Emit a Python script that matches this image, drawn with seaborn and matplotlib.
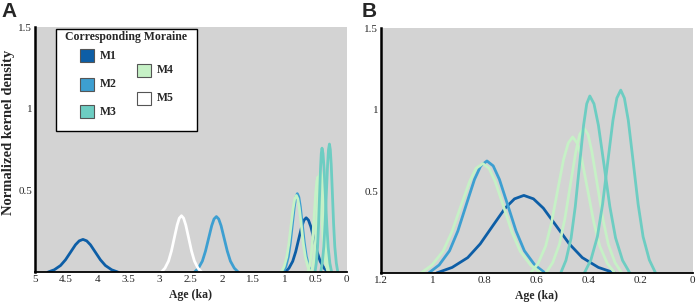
import matplotlib
matplotlib.use('Agg')
from matplotlib import rcParams
from matplotlib.patches import Rectangle
import matplotlib.pyplot as plt
import numpy as np
import pandas as pd
import seaborn as sns

# settings
sns.set_style("white")
rcParams['font.family'] = ['Liberation Serif', 'DejaVu Serif']
pal = {'M1': '#0d5ea6', 'M2': '#3d9fd1', 'M3': '#6dcdc2', 'M4': '#c6f1c6', 'M5': '#ffffff'}
bg = '#d3d3d3'

# curves: age (ka) and normalized kernel density
# young curves are in panel B units, panel A shows them scaled by A_SCALE
A_SCALE = 0.70

m1_young_age = [0.986, 0.926, 0.866, 0.818, 0.770, 0.722, 0.686, 0.650, 0.613, 0.575, 0.525, 0.475, 0.425, 0.363, 0.300]
m1_young_den = [0, 0.034, 0.094, 0.178, 0.288, 0.397, 0.454, 0.475, 0.454, 0.397, 0.288, 0.178, 0.094, 0.034, 0]

m2_young_age = [1.016, 0.976, 0.936, 0.904, 0.872, 0.840, 0.816, 0.792, 0.768, 0.744, 0.712, 0.680, 0.648, 0.608, 0.568]
m2_young_den = [0, 0.049, 0.136, 0.257, 0.416, 0.573, 0.656, 0.686, 0.656, 0.573, 0.416, 0.257, 0.136, 0.049, 0]

m4a_age = [1.046, 1.004, 0.961, 0.927, 0.893, 0.859, 0.834, 0.808, 0.784, 0.760, 0.728, 0.696, 0.664, 0.624, 0.584]
m4a_den = [0, 0.048, 0.133, 0.251, 0.407, 0.559, 0.641, 0.670, 0.641, 0.559, 0.407, 0.251, 0.133, 0.048, 0]

m4b_age = [0.624, 0.595, 0.566, 0.543, 0.520, 0.497, 0.479, 0.462, 0.445, 0.427, 0.404, 0.381, 0.358, 0.329, 0.300]
m4b_den = [0, 0.059, 0.165, 0.312, 0.506, 0.696, 0.796, 0.833, 0.796, 0.696, 0.506, 0.312, 0.165, 0.059, 0]

m4c_age = [0.565, 0.539, 0.513, 0.492, 0.471, 0.450, 0.435, 0.419, 0.403, 0.388, 0.367, 0.346, 0.325, 0.299, 0.273]
m4c_den = [0, 0.063, 0.176, 0.333, 0.539, 0.742, 0.849, 0.888, 0.849, 0.742, 0.539, 0.333, 0.176, 0.063, 0]

m3a_age = [0.508, 0.488, 0.468, 0.452, 0.436, 0.420, 0.408, 0.396, 0.380, 0.363, 0.341, 0.319, 0.297, 0.270, 0.242]
m3a_den = [0, 0.077, 0.215, 0.407, 0.658, 0.905, 1.036, 1.084, 1.036, 0.905, 0.658, 0.407, 0.215, 0.077, 0]

m3b_age = [0.417, 0.392, 0.367, 0.347, 0.327, 0.307, 0.292, 0.277, 0.263, 0.248, 0.229, 0.210, 0.191, 0.167, 0.143]
m3b_den = [0, 0.080, 0.222, 0.420, 0.680, 0.935, 1.071, 1.120, 1.071, 0.935, 0.680, 0.420, 0.222, 0.080, 0]

# older curves, panel A only (panel A units)
m1_old_age = [4.79, 4.69, 4.59, 4.51, 4.43, 4.35, 4.29, 4.23, 4.17, 4.11, 4.03, 3.95, 3.87, 3.77, 3.67]
m1_old_den = [0, 0.014, 0.040, 0.075, 0.121, 0.167, 0.191, 0.200, 0.191, 0.167, 0.121, 0.075, 0.040, 0.014, 0]

m5_age = [2.972, 2.915, 2.857, 2.811, 2.765, 2.719, 2.685, 2.650, 2.616, 2.581, 2.535, 2.489, 2.443, 2.386, 2.328]
m5_den = [0, 0.024, 0.068, 0.129, 0.209, 0.288, 0.330, 0.345, 0.330, 0.288, 0.209, 0.129, 0.068, 0.024, 0]

m2_old_age = [2.440, 2.378, 2.315, 2.265, 2.215, 2.165, 2.128, 2.090, 2.053, 2.015, 1.965, 1.915, 1.865, 1.803, 1.740]
m2_old_den = [0, 0.024, 0.067, 0.128, 0.206, 0.284, 0.325, 0.340, 0.325, 0.284, 0.206, 0.128, 0.067, 0.024, 0]

young = [('M1', m1_young_age, m1_young_den), ('M2', m2_young_age, m2_young_den),
         ('M4', m4a_age, m4a_den), ('M4', m4b_age, m4b_den), ('M4', m4c_age, m4c_den),
         ('M3', m3a_age, m3a_den), ('M3', m3b_age, m3b_den)]
old = [('M1', m1_old_age, m1_old_den), ('M2', m2_old_age, m2_old_den), ('M5', m5_age, m5_den)]

a_xticks = [5, 4.5, 4, 3.5, 3, 2.5, 2, 1.5, 1, 0.5, 0]
b_xticks = [1.2, 1, 0.8, 0.6, 0.4, 0.2, 0]
yticks = [0.5, 1, 1.5]
moraines = ['M1', 'M2', 'M3', 'M4', 'M5']

def draw(ax, curves, scale):
    for name, ages, dens in curves:
        d = pd.DataFrame({'age': ages, 'density': np.array(dens) * scale})
        sns.lineplot(data=d, x='age', y='density', sort=False, estimator=None,
                     color=pal[name], lw=2, ax=ax)

def style(ax, xmax, xticks):
    ax.set_facecolor(bg)
    ax.set_xlim(xmax, 0)
    ax.set_ylim(0, 1.5)
    ax.set_xticks(xticks)
    ax.set_xticklabels(['%g' % t for t in xticks])
    ax.set_yticks(yticks)
    ax.set_yticklabels(['%g' % t for t in yticks])
    for s in ['top', 'right']:
        ax.spines[s].set_visible(False)
    ax.spines['left'].set_linewidth(1.8)
    ax.spines['left'].set_color('black')
    ax.spines['bottom'].set_linewidth(1.3)
    ax.spines['bottom'].set_color('black')
    ax.tick_params(direction='in', length=3, color='#888888', labelsize=8, pad=2)
    ax.set_xlabel('Age (ka)', fontsize=8.5, fontweight='bold', labelpad=4)
    ax.set_ylabel('')

fig = plt.figure(figsize=(6.99, 3.05), dpi=100)
axA = fig.add_axes([0.050, 0.108, 0.446, 0.803])
axB = fig.add_axes([0.545, 0.105, 0.446, 0.803])

draw(axA, old, 1.0)
draw(axA, young, A_SCALE)
draw(axB, young, 1.0)
style(axA, 5, a_xticks)
style(axB, 1.2, b_xticks)
fig.text(0.0115, 0.567, 'Normalized kernel density', rotation=90, ha='center', va='center',
         fontsize=10.5, fontweight='bold')

# legend box (panel A)
axA.add_patch(Rectangle((0.067, 0.577), 0.453, 0.414, transform=axA.transAxes,
                        facecolor='white', edgecolor='black', lw=1, zorder=5))
axA.text(0.291, 0.959, 'Corresponding Moraine', transform=axA.transAxes, ha='center',
         va='center', fontsize=8.5, fontweight='bold', zorder=6)
leg_x = [0.144, 0.144, 0.144, 0.326, 0.326]
leg_y = [0.883, 0.767, 0.654, 0.824, 0.710]
for name, lx, ly in zip(moraines, leg_x, leg_y):
    axA.add_patch(Rectangle((lx, ly - 0.027), 0.045, 0.054, transform=axA.transAxes,
                            facecolor=pal[name], edgecolor='#555555', lw=0.8, zorder=6))
    axA.text(lx + 0.064, ly, name, transform=axA.transAxes, ha='left', va='center',
             fontsize=8.5, fontweight='bold', zorder=6)

fig.text(0.002, 0.995, 'A', fontsize=15, fontweight='bold', family='Liberation Sans', va='top')
fig.text(0.517, 0.995, 'B', fontsize=15, fontweight='bold', family='Liberation Sans', va='top')

fig.savefig('out.png', dpi=100)
plt.close()
